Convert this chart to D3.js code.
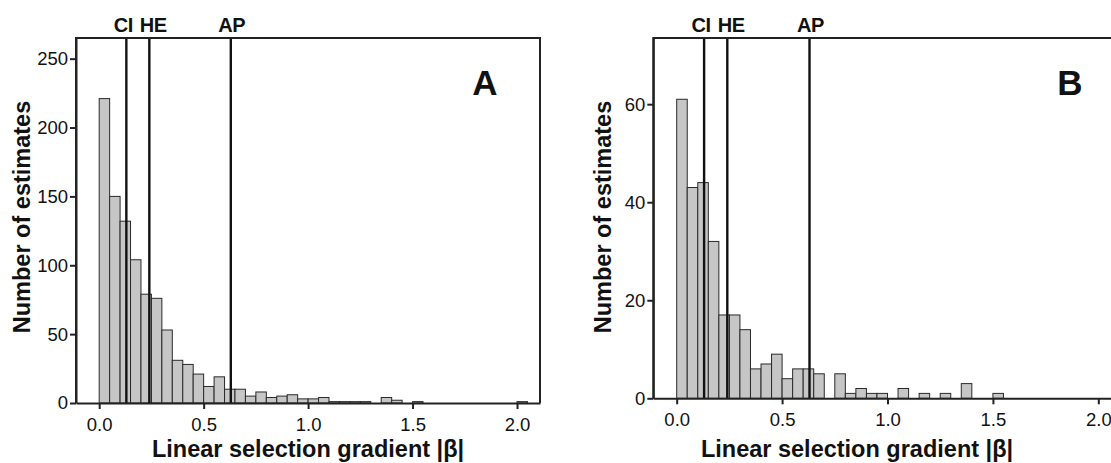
<!DOCTYPE html>
<html><head><meta charset="utf-8">
<script src="https://cdn.jsdelivr.net/npm/d3@7"></script>
<style>
html,body{margin:0;padding:0;background:#fff;overflow:hidden}
text{font-family:"Liberation Sans",Arial,sans-serif;fill:#111}
</style></head><body>
<svg id="c" width="1111" height="463"></svg>
<script>
// Histogram bins of width 0.05 starting at 0
const binWidth = 0.05;
const countsA = [221,150,132,104,79,76,53,31,28,21,12,19,10,10,5,8,4,5,6,3,3,4,1,1,1,1,0,4,2,0,1,0,0,0,0,0,0,0,0,0,1];
const countsB = [61,43,44,32,17,17,14,6,7,9,4,6,6,5,0,5,1,2,1,1,0,2,0,1,0,1,0,3,0,0,1];
const refNames = ["CI","HE","AP"];
const refValues = [0.13,0.24,0.63];
const xTicks = [0,0.5,1.0,1.5,2.0];
const yTicksA = [0,50,100,150,200,250];
const yTicksB = [0,20,40,60];
const panelLetters = ["A","B"];
const xTitle = "Linear selection gradient |\u03b2|";
const yTitle = "Number of estimates";

const svg = d3.select("#c");

function panel(cfg){
  const g = svg.append("g");
  const x = d3.scaleLinear().domain([-0.111,2.11]).range([cfg.left,cfg.right]);
  const y = d3.scaleLinear().domain([0,cfg.ymax]).range([cfg.bottom,38]);
  // bars
  g.selectAll("rect.bar").data(cfg.counts.map((c,i)=>({x0:i*binWidth,c})).filter(d=>d.c>0))
    .enter().append("rect").attr("class","bar")
    .attr("x",d=>x(d.x0)).attr("width",d=>x(d.x0+binWidth)-x(d.x0))
    .attr("y",d=>y(d.c)).attr("height",d=>y(0)-y(d.c))
    .attr("fill","#c6c6c6").attr("stroke","#2a2a2a").attr("stroke-width",1);
  // reference lines
  g.selectAll("line.ref").data(refValues).enter().append("line")
    .attr("x1",d=>x(d)).attr("x2",d=>x(d)).attr("y1",38).attr("y2",cfg.bottom)
    .attr("stroke","#111").attr("stroke-width",2.4);
  const dxs=[-3,4,1];
  g.selectAll("text.ref").data(refNames).enter().append("text")
    .attr("x",(d,i)=>x(refValues[i])+dxs[i]).attr("y",32)
    .attr("text-anchor","middle").attr("font-weight","bold").attr("font-size",20)
    .attr("letter-spacing",-0.4).text(d=>d);
  // frame
  g.append("path").attr("d",`M${cfg.left},${cfg.bottom}V38H${cfg.right}V${cfg.bottom}`)
    .attr("fill","none").attr("stroke","#222").attr("stroke-width",2);
  // axes
  const xa = g.append("g").attr("transform",`translate(0,${cfg.bottom})`)
    .call(d3.axisBottom(x).tickValues(xTicks).tickFormat(d3.format(".1f")).tickSize(6).tickSizeOuter(0));
  const ya = g.append("g").attr("transform",`translate(${cfg.left},0)`)
    .call(d3.axisLeft(y).tickValues(cfg.yticks).tickFormat(d3.format("d")).tickSize(6).tickSizeOuter(0));
  [xa,ya].forEach(a=>{
    a.select(".domain").attr("stroke","#222").attr("stroke-width",2);
    a.selectAll(".tick line").attr("stroke","#222").attr("stroke-width",2);
    a.selectAll(".tick text").attr("font-size",18.5).attr("fill","#111")
      .style("font-family","'Liberation Sans',Arial,sans-serif");
  });
  xa.selectAll(".tick text").attr("dy","0.95em").attr("y",10);
  ya.selectAll(".tick text").attr("x",-8);
  // titles
  g.append("text").attr("x",cfg.xTitleX).attr("y",457).attr("text-anchor","middle")
    .attr("font-weight","bold").attr("font-size",23.5).text(xTitle);
  g.append("text").attr("transform",`translate(${cfg.yTitleX},217) rotate(-90)`)
    .attr("text-anchor","middle").attr("font-weight","bold").attr("font-size",23.5).text(yTitle);
  g.append("text").attr("x",cfg.letterX).attr("y",95).attr("text-anchor","middle")
    .attr("font-weight","bold").attr("font-size",35).text(cfg.letter);
}

panel({counts:countsA,left:76,right:540,bottom:403,ymax:265,yticks:yTicksA,
  xTitleX:308,yTitleX:30,letterX:485,letter:panelLetters[0]});
panel({counts:countsB,left:653.3,right:1121.5,bottom:398.3,ymax:73.5,yticks:yTicksB,
  xTitleX:857,yTitleX:611,letterX:1070,letter:panelLetters[1]});
</script></body></html>
